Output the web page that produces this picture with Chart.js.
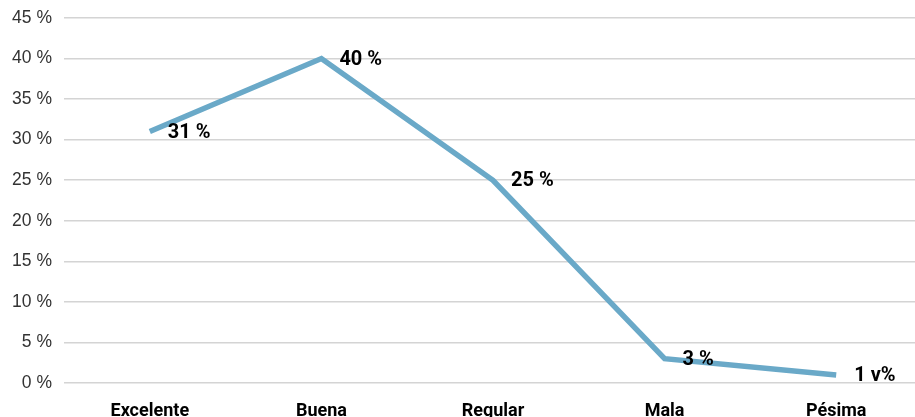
<!DOCTYPE html>
<html>
<head>
<meta charset="utf-8">
<script src="https://cdn.jsdelivr.net/npm/chart.js@4.4.0/dist/chart.umd.min.js"></script>
<style>
  html, body { margin: 0; padding: 0; background: #fff; overflow: hidden; }
  #wrap { width: 922px; height: 417px; }
</style>
</head>
<body>
<div id="wrap"><canvas id="myChart"></canvas></div>
<script>
const categories = ['Excelente', 'Buena', 'Regular', 'Mala', 'Pésima'];
const values = [31, 40, 25, 3, 1];
const pointLabels = ['31 %', '40 %', '25 %', '3 %', '1 v%'];

// draws the value labels to the right of each point
const valueLabels = {
  id: 'valueLabels',
  afterDatasetsDraw(chart) {
    const ctx = chart.ctx;
    const meta = chart.getDatasetMeta(0);
    ctx.save();
    ctx.font = 'bold 20px Roboto, "Liberation Sans", sans-serif';
    ctx.fillStyle = '#000';
    ctx.textAlign = 'left';
    ctx.textBaseline = 'middle';
    meta.data.forEach(function (pt, i) {
      ctx.fillText(pointLabels[i], pt.x + 18, pt.y + 1);
    });
    ctx.restore();
  }
};

const ctx = document.getElementById('myChart').getContext('2d');
const chart = new Chart(ctx, {
  type: 'line',
  data: {
    labels: categories,
    datasets: [{
      data: values,
      borderColor: '#6aa9c8',
      borderWidth: 5.5,
      pointRadius: 0,
      tension: 0,
      fill: false,
    }],
  },
  options: {
    responsive: true,
    maintainAspectRatio: false,
    animation: false,
    layout: { padding: { top: 18, left: 0, right: 0, bottom: 0 } },
    plugins: { legend: { display: false }, tooltip: { enabled: false } },
    scales: {
      x: {
        offset: true,
        grid: { display: false, drawTicks: false },
        border: { display: false },
        ticks: {
          padding: 18,
          color: '#000',
          font: { family: 'Roboto, "Liberation Sans", sans-serif', size: 18, weight: 'bold' },
        },
        afterFit: function (s) { s.height = 34; },
      },
      y: {
        min: 0,
        max: 45,
        ticks: {
          stepSize: 5,
          padding: 12,
          color: '#333',
          font: { family: '"Liberation Sans", Arial, sans-serif', size: 17.5 },
          callback: function (v) { return v + ' %'; },
        },
        grid: { color: '#d4d4d4', lineWidth: 1.5, drawTicks: false },
        border: { display: false },
        afterFit: function (s) { s.width = 64; s.paddingTop = 0; s.paddingBottom = 0; },
      },
    },
  },
  plugins: [valueLabels],
});
</script>
</body>
</html>
